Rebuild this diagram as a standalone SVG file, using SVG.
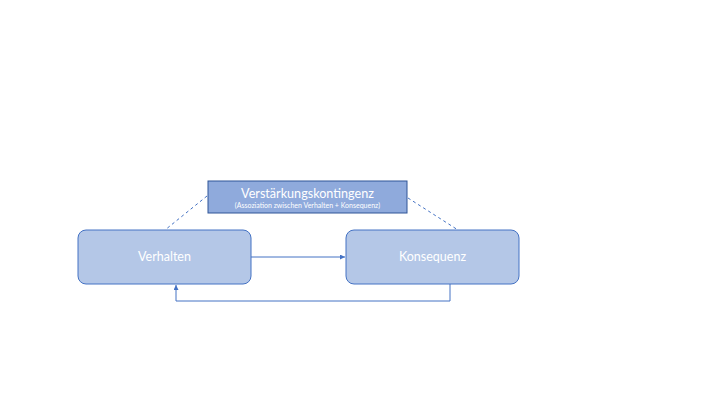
<svg xmlns="http://www.w3.org/2000/svg" width="720" height="405" viewBox="0 0 720 405">
<style>
.node{fill:#b4c7e7;stroke:#4472c4;stroke-width:1}
.lbl{font-family:Lato,"Liberation Sans",sans-serif;fill:#ffffff;text-anchor:middle}
.conn{fill:none;stroke:#4472c4;stroke-width:1}
.dash{fill:none;stroke:#4472c4;stroke-width:1;stroke-dasharray:3 3}
</style>
<defs>
<marker id="arr" viewBox="0 0 10 10" refX="10" refY="5" markerWidth="5" markerHeight="5" orient="auto">
<path d="M0,0 L10,5 L0,10 z" fill="#4472c4"/>
</marker>
</defs>
<rect width="720" height="405" fill="#ffffff"/>
<g id="connectors">
<line class="dash" x1="207" y1="196" x2="165" y2="230"/>
<line class="dash" x1="408" y1="198" x2="458" y2="230"/>
<line class="conn" x1="251" y1="257" x2="345" y2="257" marker-end="url(#arr)"/>
<path class="conn" d="M450,284 V301 H176 V285" marker-end="url(#arr)"/>
</g>
<g id="kontingenz">
<rect x="208" y="181" width="199" height="32" fill="#8faadc" stroke="#2f5597" stroke-width="1"/>
<text class="lbl" x="307.5" y="198" font-size="12.6">Verstärkungskontingenz</text>
<text class="lbl" x="307.5" y="208" font-size="7">(Assoziation zwischen Verhalten + Konsequenz)</text>
</g>
<g id="verhalten">
<rect class="node" x="78" y="230" width="173" height="54" rx="8"/>
<text class="lbl" x="164.5" y="261" font-size="12.5">Verhalten</text>
</g>
<g id="konsequenz">
<rect class="node" x="346" y="230" width="173" height="54" rx="8"/>
<text class="lbl" x="432.5" y="261" font-size="12.5">Konsequenz</text>
</g>
</svg>
